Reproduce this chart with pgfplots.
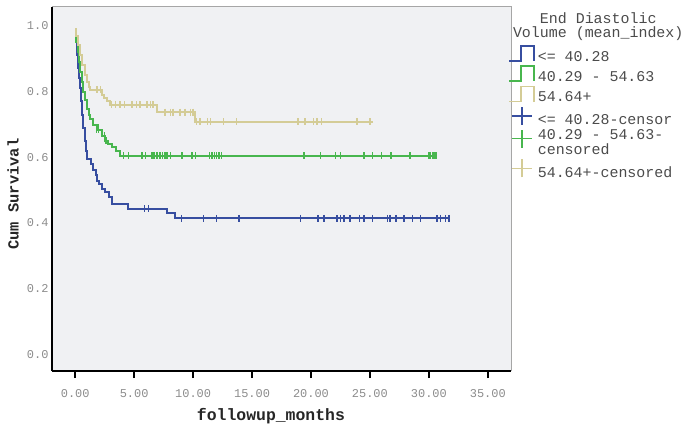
\documentclass[border=0pt]{standalone}
\usepackage{fontspec}
\setmainfont{Liberation Mono}
\usepackage{pgfplots}
\pgfplotsset{compat=1.18}

\definecolor{kmblue}{RGB}{55,78,160}
\definecolor{kmgreen}{RGB}{72,182,78}
\definecolor{kmkhaki}{RGB}{212,204,150}
\definecolor{plotbg}{RGB}{240,241,243}
\definecolor{ticktext}{RGB}{140,140,140}
\definecolor{legtext}{RGB}{75,75,75}

\begin{document}
\begin{tikzpicture}
\path[use as bounding box] (-52bp,-58bp) rectangle (633bp,371bp);
\begin{axis}[
  at={(0,0)}, anchor=south west,
  scale only axis, width=459bp, height=364bp,
  xmin=-1.97, xmax=36.97, ymin=-0.05, ymax=1.057,
  axis x line*=bottom, axis y line*=left,
  axis line style={black, line width=2bp, -},
  axis background/.style={fill=plotbg},
  xtick={0,5,10,15,20,25,30,35},
  ytick={0,0.2,0.4,0.6,0.8,1.0},
  tick align=outside, major tick length=7bp,
  xtick style={black, line width=1.5bp},
  ytick style={draw=none},
  /pgf/number format/assume math mode=true,
  xticklabel style={/pgf/number format/.cd, fixed, fixed zerofill, precision=2, /tikz/.cd,
    font=\fontsize{12}{12}\selectfont, text=ticktext, yshift=-8bp},
  yticklabel style={/pgf/number format/.cd, fixed, fixed zerofill, precision=1, /tikz/.cd,
    font=\fontsize{12}{12}\selectfont, text=ticktext, anchor=east, xshift=7bp},
  xlabel={followup\_months},
  xlabel style={font=\bfseries\fontsize{16.5}{16.5}\selectfont, text=black!85,
    at={(axis description cs:0.477,-0.125)}, anchor=center},
  ylabel={Cum Survival},
  ylabel style={font=\bfseries\fontsize{15.5}{15.5}\selectfont, text=black!85,
    at={(axis description cs:-0.085,0.486)}, anchor=center},
  legend cell align=left,
  legend style={at={(axis description cs:0.9935,0.896)}, anchor=north west,
    draw=none, fill=none, inner sep=0pt, column sep=2bp, row sep=1.8bp,
    font=\fontsize{15}{15}\selectfont, text=legtext,
    nodes={inner sep=1bp, align=left}},
  after end axis/.code={
    \draw[gray!70, line width=1bp] (rel axis cs:0,1) -- (rel axis cs:1,1) -- (rel axis cs:1,0);
    \node[font=\fontsize{15}{13.5}\selectfont, text=legtext, align=center]
      at (axis description cs:1.19,0.946) {End Diastolic\\Volume (mean\_index)};
  },
]
% survival steps
\addplot[const plot, kmblue, line width=2bp,
  legend image code/.code={\draw[kmblue, line width=1.6bp] (0bp,-4bp) -- (12bp,-4bp) -- (12bp,11bp) -- (25bp,11bp) -- (25bp,-4bp);}]
coordinates {(0,0.985) (0.08,0.95) (0.15,0.91) (0.25,0.87) (0.33,0.84) (0.42,0.81) (0.5,0.77)
 (0.58,0.73) (0.7,0.69) (0.85,0.65) (0.95,0.62) (1.0,0.596) (1.36,0.579) (1.55,0.562) (1.75,0.545)
 (1.84,0.528) (1.98,0.518) (2.26,0.503) (2.55,0.493) (2.83,0.48) (3.1,0.458) (4.5,0.444)
 (7.8,0.432) (8.5,0.414) (31.8,0.414)};
\addlegendentry{<= 40.28}
\addplot[const plot, kmgreen, line width=2bp,
  legend image code/.code={\draw[kmgreen, line width=1.6bp] (0bp,-4bp) -- (12bp,-4bp) -- (12bp,11bp) -- (25bp,11bp) -- (25bp,-4bp);}]
coordinates {(0,0.975) (0.1,0.95) (0.2,0.92) (0.3,0.89) (0.42,0.86) (0.55,0.83) (0.7,0.80)
 (0.85,0.775) (1.0,0.747) (1.13,0.73) (1.27,0.716) (1.55,0.698) (1.9,0.684) (2.26,0.666)
 (2.55,0.65) (2.8,0.64) (3.1,0.631) (3.5,0.62) (3.8,0.605) (30.6,0.605)};
\addlegendentry{40.29 - 54.63}
\addplot[const plot, kmkhaki, line width=2bp,
  legend image code/.code={\draw[kmkhaki, line width=1.6bp] (0bp,-4bp) -- (12bp,-4bp) -- (12bp,11bp) -- (25bp,11bp) -- (25bp,-4bp);}]
coordinates {(0,0.99) (0.1,0.97) (0.25,0.94) (0.42,0.91) (0.6,0.88) (0.85,0.85) (1.0,0.83)
 (1.13,0.815) (1.27,0.805) (2.26,0.79) (2.45,0.78) (2.7,0.77) (2.95,0.76) (6.9,0.737)
 (10.2,0.708) (25.3,0.708)};
\addlegendentry{54.64+}
% censored cases
\addplot[only marks, mark=|, mark size=3.5bp, kmblue, mark options={line width=1.4bp},
  legend image code/.code={\draw[kmblue, line width=1.6bp] (3bp,4bp) -- (23bp,4bp) (13bp,-5bp) -- (13bp,13bp);}]
coordinates {(5.86,0.444) (6.2,0.444) (9.0,0.414) (10.9,0.414) (12.0,0.414) (13.9,0.414)
 (19.1,0.414) (20.6,0.414) (21.1,0.414) (22.2,0.414) (22.5,0.414) (22.8,0.414) (23.3,0.414)
 (24.1,0.414) (24.5,0.414) (25.2,0.414) (26.5,0.414) (26.7,0.414) (27.2,0.414) (27.9,0.414)
 (28.6,0.414) (29.3,0.414) (30.7,0.414) (31.0,0.414) (31.4,0.414) (31.7,0.414)};
\addlegendentry{<= 40.28-censor}
\addplot[only marks, mark=|, mark size=3.5bp, kmgreen, mark options={line width=1.4bp},
  legend image code/.code={\draw[kmgreen, line width=1.6bp] (3bp,4bp) -- (23bp,4bp) (13bp,-5bp) -- (13bp,13bp);}]
coordinates {(1.8,0.684) (1.95,0.684) (2.5,0.666) (2.62,0.65) (4.1,0.605) (4.5,0.605)
 (5.66,0.605) (5.94,0.605) (6.5,0.605) (6.7,0.605) (6.9,0.605) (7.0,0.605) (7.2,0.605)
 (7.4,0.605) (7.6,0.605) (7.8,0.605) (8.06,0.605) (9.06,0.605) (9.9,0.605) (10.2,0.605)
 (11.4,0.605) (11.6,0.605) (11.8,0.605) (12.0,0.605) (12.2,0.605) (12.4,0.605) (19.4,0.605)
 (20.8,0.605) (22.1,0.605) (22.5,0.605) (24.5,0.605) (25.2,0.605) (26.0,0.605) (26.8,0.605)
 (28.4,0.605) (30.0,0.605) (30.15,0.605) (30.3,0.605) (30.45,0.605) (30.6,0.605)};
\addlegendentry{40.29 - 54.63-\\censored}
\addplot[only marks, mark=|, mark size=3.5bp, kmkhaki, mark options={line width=1.4bp},
  legend image code/.code={\draw[kmkhaki, line width=1.6bp] (3bp,4bp) -- (23bp,4bp) (13bp,-5bp) -- (13bp,13bp);}]
coordinates {(1.84,0.805) (2.12,0.805) (3.1,0.76) (3.4,0.76) (3.8,0.76) (4.2,0.76) (4.8,0.76)
 (5.2,0.76) (5.5,0.76) (6.1,0.76) (6.4,0.76) (6.6,0.76) (7.6,0.737) (8.06,0.737) (8.3,0.737)
 (8.9,0.737) (9.3,0.737) (9.8,0.737) (10.0,0.737) (10.3,0.708) (10.6,0.708) (11.2,0.708)
 (11.5,0.708) (12.6,0.708) (13.7,0.708) (18.9,0.708) (19.5,0.708) (20.2,0.708) (20.5,0.708)
 (20.9,0.708) (23.9,0.708) (25.0,0.708)};
\addlegendentry{54.64+-censored}
\end{axis}
\end{tikzpicture}
\end{document}
